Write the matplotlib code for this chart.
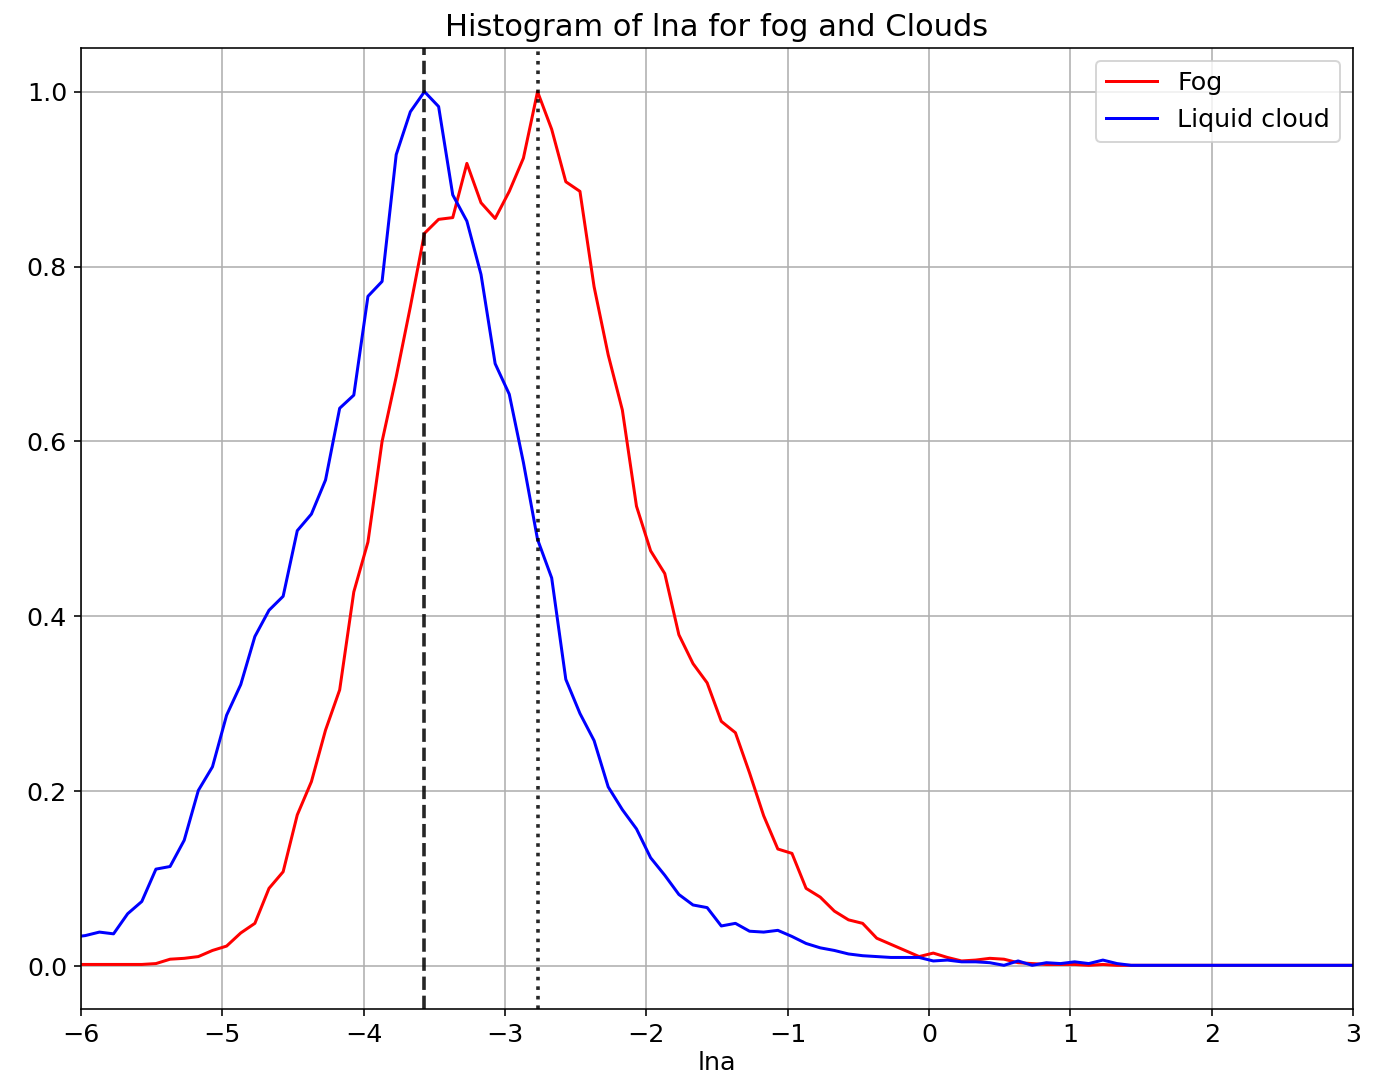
import matplotlib
matplotlib.use('Agg')
import matplotlib.pyplot as plt
import numpy as np

plt.rcParams['font.size'] = 12.7

# centri dei bin (passo 0.1)
lna = np.arange(92)*0.1 - 6.07

fog = [0.002, 0.002, 0.002, 0.002, 0.002, 0.002, 0.003, 0.008, 0.009, 0.011,
       0.018, 0.023, 0.038, 0.049, 0.089, 0.108, 0.173, 0.211, 0.270, 0.316,
       0.428, 0.485, 0.600, 0.674, 0.754, 0.838, 0.854, 0.856, 0.918, 0.873,
       0.855, 0.886, 0.924, 1.000, 0.957, 0.897, 0.886, 0.777, 0.699, 0.636,
       0.526, 0.475, 0.449, 0.379, 0.346, 0.324, 0.280, 0.267, 0.221, 0.172,
       0.134, 0.129, 0.089, 0.079, 0.063, 0.053, 0.049, 0.032, 0.025, 0.018,
       0.011, 0.015, 0.010, 0.006, 0.007, 0.009, 0.008, 0.004, 0.003, 0.002,
       0.002, 0.002, 0.001, 0.002, 0.001,
       0.001, 0.001, 0.001, 0.001, 0.001, 0.001, 0.001, 0.001, 0.001, 0.001,
       0.001, 0.001, 0.001, 0.001, 0.001, 0.001, 0.001]

cloud = [0.033, 0.035, 0.039, 0.037, 0.060, 0.074, 0.111, 0.114, 0.144, 0.201,
         0.228, 0.287, 0.322, 0.377, 0.407, 0.423, 0.498, 0.517, 0.556, 0.638,
         0.653, 0.766, 0.783, 0.928, 0.977, 1.000, 0.983, 0.882, 0.852, 0.791,
         0.689, 0.654, 0.576, 0.488, 0.444, 0.328, 0.289, 0.258, 0.205, 0.179,
         0.157, 0.124, 0.104, 0.082, 0.070, 0.067, 0.046, 0.049, 0.040, 0.039,
         0.041, 0.034, 0.026, 0.021, 0.018, 0.014, 0.012, 0.011, 0.010, 0.010,
         0.010, 0.006, 0.007, 0.005, 0.005, 0.004, 0.001, 0.006, 0.001, 0.004,
         0.003, 0.005, 0.003, 0.007, 0.003,
         0.001, 0.001, 0.001, 0.001, 0.001, 0.001, 0.001, 0.001, 0.001, 0.001,
         0.001, 0.001, 0.001, 0.001, 0.001, 0.001, 0.001]

# picchi delle due distribuzioni
peak_cloud = -3.57
peak_fog = -2.77

fig, ax = plt.subplots(figsize=(1378/144, 1081/144), dpi=144)
fig.subplots_adjust(left=0.0588, right=0.9819, top=0.9556, bottom=0.0666)

ax.plot(lna, fog, color='red', label='Fog')
ax.plot(lna, cloud, color='blue', label='Liquid cloud')
ax.axvline(peak_cloud, color='k', linestyle='--', lw=1.8, alpha=0.85)
ax.axvline(peak_fog, color='k', linestyle=':', lw=1.8, alpha=0.85)

ax.set_xlim(-6, 3)
ax.set_xlabel('lna', labelpad=2)
ax.set_title('Histogram of lna for fog and Clouds')
ax.grid()
ax.legend(loc='upper right')

fig.savefig('out.png', dpi=144)
